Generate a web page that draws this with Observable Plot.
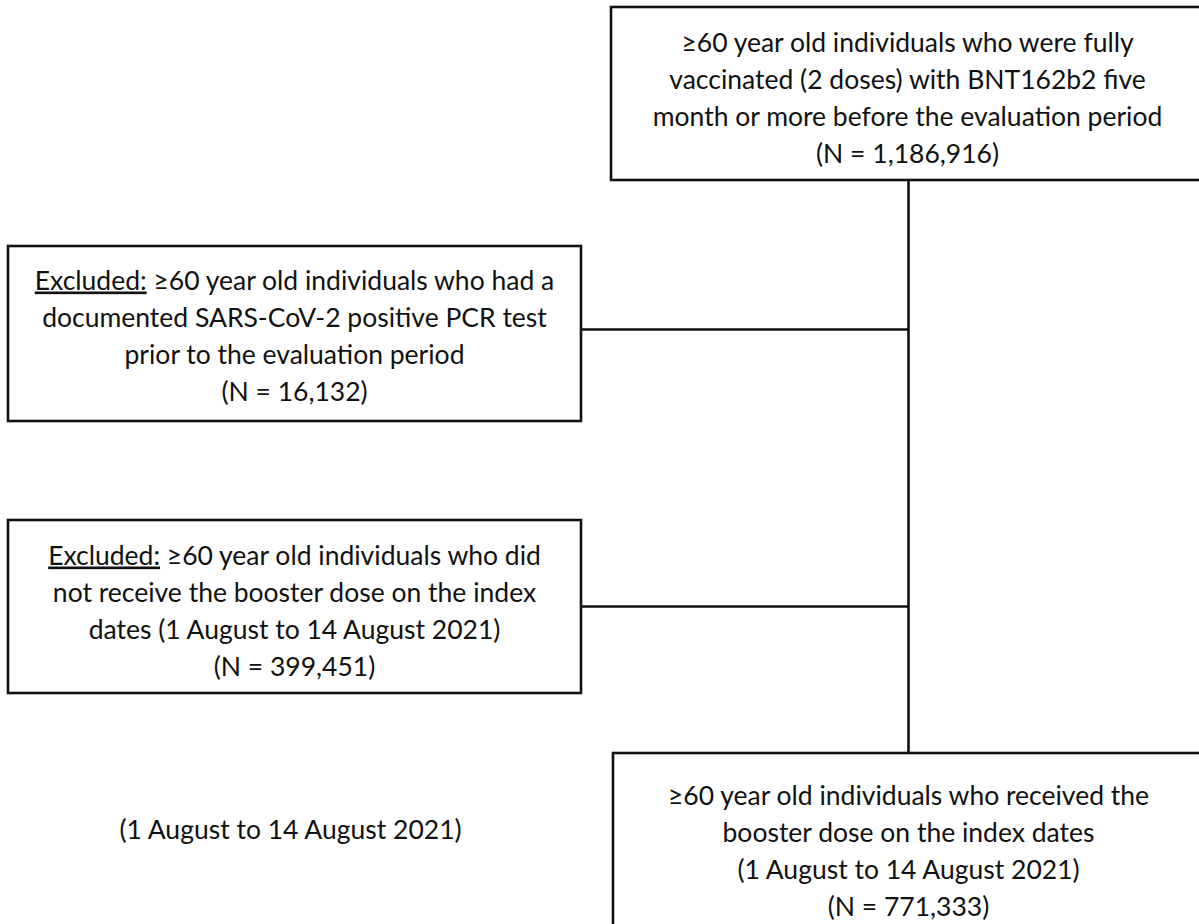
<!DOCTYPE html>
<html>
<head>
<meta charset="utf-8">
<script src="https://cdn.jsdelivr.net/npm/d3@7"></script>
<script src="https://cdn.jsdelivr.net/npm/@observablehq/plot@0.6"></script>
<style>
  html, body { margin: 0; padding: 0; background: #fff; }
  #chart svg { display: block; }
</style>
</head>
<body>
<div id="chart"></div>
<script>
// ---- content (data) ----
const stepNames = ["cohort", "excluded1", "excluded2", "final"];
const stepTexts = [
  "≥60 year old individuals who were fully\nvaccinated (2 doses) with BNT162b2 five\nmonth or more before the evaluation period",
  "Excluded: ≥60 year old individuals who had a\ndocumented SARS-CoV-2 positive PCR test\nprior to the evaluation period",
  "Excluded: ≥60 year old individuals who did\nnot receive the booster dose on the index\ndates (1 August to 14 August 2021)",
  "≥60 year old individuals who received the\nbooster dose on the index dates\n(1 August to 14 August 2021)"
];
const stepCounts = [1186916, 16132, 399451, 771333];
const looseNote = "(1 August to 14 August 2021)";

// ---- layout (positions, kept apart from the data) ----
const boxX1 = [611, 8, 8, 613];
const boxX2 = [1210, 581, 581, 1210];
const boxY1 = [7, 246, 520, 753];
const boxY2 = [180, 421, 693, 940];
const textX = [907, 294, 294, 908];
const textY = [95, 333, 608, 848];
const spineX = 908;
const connectorY = [329, 606];

const fmt = d3.format(",");
const boxes = stepNames.map((name, i) => ({
  name,
  label: stepTexts[i] + "\n(N = " + fmt(stepCounts[i]) + ")",
  x1: boxX1[i], x2: boxX2[i], y1: boxY1[i], y2: boxY2[i],
  tx: textX[i], ty: textY[i]
}));

const FONT = "Lato, 'Open Sans', sans-serif";
const FS = 26.5;
const SW = 2.6;

const chart = Plot.plot({
  width: 1199,
  height: 924,
  margin: 0,
  x: {type: "identity", axis: null},
  y: {type: "identity", axis: null},
  style: {background: "#fff", fontFamily: FONT, fontSize: FS + "px", color: "#111"},
  marks: [
    Plot.rect(boxes, {x1: "x1", x2: "x2", y1: "y1", y2: "y2", fill: "#fff", stroke: "#111", strokeWidth: SW}),
    Plot.ruleX([spineX], {y1: boxY2[0], y2: boxY1[3], stroke: "#111", strokeWidth: SW}),
    Plot.ruleY(connectorY, {x1: boxX2[1], x2: spineX, stroke: "#111", strokeWidth: SW}),
    Plot.text(boxes, {x: "tx", y: "ty", text: "label", textAnchor: "middle", lineAnchor: "middle",
      lineHeight: 37.3 / FS, fontSize: FS, fill: "#111", fontFamily: FONT}),
    Plot.text([looseNote], {x: 290, y: 830, text: d => d, textAnchor: "middle", lineAnchor: "middle",
      fontSize: FS, fill: "#111", fontFamily: FONT})
  ]
});

// underline the "Excluded:" prefix as in the original
chart.querySelectorAll("tspan").forEach(ts => {
  const t = ts.textContent;
  if (t.startsWith("Excluded:")) {
    ts.textContent = "";
    const u = document.createElementNS("http://www.w3.org/2000/svg", "tspan");
    u.setAttribute("text-decoration", "underline");
    u.textContent = "Excluded:";
    ts.appendChild(u);
    ts.appendChild(document.createTextNode(t.slice("Excluded:".length)));
  }
});

document.getElementById("chart").appendChild(chart);
</script>
</body>
</html>
